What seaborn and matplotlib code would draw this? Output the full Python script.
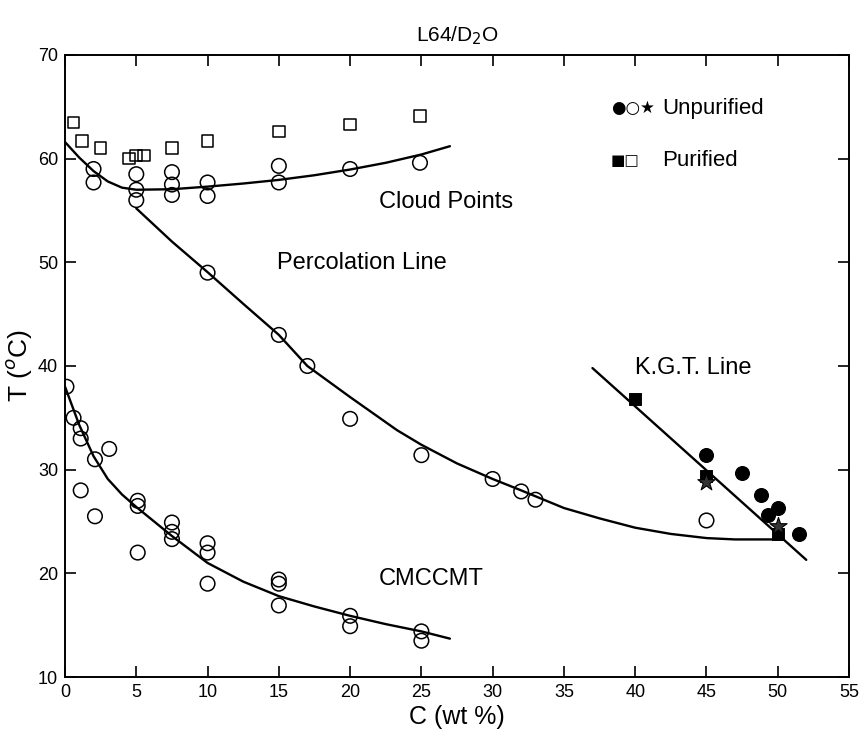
import numpy as np
import pandas as pd
import matplotlib
matplotlib.use('Agg')
import matplotlib.pyplot as plt
import seaborn as sns

# cloud points, purified (open squares)
cloud_pur_c = [0.6, 1.2, 2.5, 4.5, 5.0, 5.55, 7.5, 10.0, 15.0, 20.0, 24.9]
cloud_pur_t = [63.5, 61.7, 61.0, 60.0, 60.3, 60.3, 61.0, 61.7, 62.6, 63.3, 64.1]

# cloud points, unpurified (open circles)
cloud_unp_c = [2.0, 2.0, 5.0, 5.0, 5.0, 7.5, 7.5, 7.5, 10.0, 10.0, 15.0, 15.0, 20.0, 24.9]
cloud_unp_t = [59.0, 57.7, 58.5, 57.0, 56.0, 58.7, 57.5, 56.5, 57.7, 56.4, 59.3, 57.7, 59.0, 59.6]

# percolation points (open circles)
perc_c = [10.0, 15.0, 17.0, 20.0, 25.0, 30.0, 32.0, 33.0, 45.0]
perc_t = [49.0, 43.0, 40.0, 34.9, 31.4, 29.1, 27.9, 27.1, 25.1]

# CMC / CMT points (open circles)
cmc_c = [0.1, 0.6, 1.1, 1.1, 2.1, 3.1, 1.1, 2.1, 5.1, 5.1, 5.1, 7.5, 7.5, 7.5,
         10.0, 10.0, 10.0, 15.0, 15.0, 15.0, 20.0, 20.0, 25.0, 25.0]
cmc_t = [38.0, 35.0, 34.0, 33.0, 31.0, 32.0, 28.0, 25.5, 27.0, 26.5, 22.0, 24.9, 24.0, 23.3,
         22.9, 22.0, 19.0, 19.4, 19.0, 16.9, 15.9, 14.9, 14.4, 13.5]

# K.G.T. points
kgt_unp_c = [45.0, 47.5, 48.8, 50.0, 49.3, 51.5]
kgt_unp_t = [31.4, 29.7, 27.6, 26.3, 25.6, 23.8]
kgt_pur_c = [40.0, 45.0, 50.0]
kgt_pur_t = [36.8, 29.4, 23.8]
kgt_star_c = [45.0, 50.0]
kgt_star_t = [28.8, 24.6]

# fitted curves
cloud_line_c = [0.0, 1.0, 2.0, 3.0, 4.0, 5.0, 7.5, 10.0, 12.5, 15.0, 17.5, 20.0, 22.5, 25.0, 27.0]
cloud_line_t = [61.6, 60.1, 58.8, 57.8, 57.2, 57.0, 57.05, 57.3, 57.6, 57.95, 58.4, 58.95, 59.6, 60.4, 61.2]

perc_line_c = [5.0, 7.5, 10.0, 12.5, 15.0, 17.0, 20.0, 23.3, 25.0, 27.5, 30.0, 32.0, 35.0,
               37.5, 40.0, 42.5, 45.0, 47.0, 50.0]
perc_line_t = [55.2, 52.0, 49.05, 46.0, 43.0, 40.0, 37.0, 33.8, 32.4, 30.6, 29.1, 28.0, 26.3,
               25.3, 24.4, 23.8, 23.4, 23.27, 23.27]

cmc_line_c = [0.0, 1.0, 2.0, 3.0, 4.0, 5.0, 7.5, 10.0, 12.5, 15.0, 17.5, 20.0, 22.5, 25.0, 27.0]
cmc_line_t = [38.0, 34.3, 31.3, 29.1, 27.6, 26.4, 23.6, 21.0, 19.2, 17.8, 16.8, 15.9, 15.1, 14.4, 13.7]

kgt_line_c = [37.0, 52.0]
kgt_line_t = [39.8, 21.3]

sns.set_style('ticks')
plt.rcParams['font.family'] = ['Liberation Sans', 'DejaVu Sans']
plt.rcParams.update({'text.color': 'black', 'axes.labelcolor': 'black',
                     'xtick.color': 'black', 'ytick.color': 'black',
                     'axes.edgecolor': 'black'})

fig = plt.figure(figsize=(8.59, 7.30), dpi=100)
ax = fig.add_axes([0.0757, 0.0726, 0.9127, 0.8521])

# curves
for cx, ct in [(cloud_line_c, cloud_line_t), (perc_line_c, perc_line_t),
               (cmc_line_c, cmc_line_t), (kgt_line_c, kgt_line_t)]:
    sns.lineplot(x=cx, y=ct, ax=ax, color='black', lw=1.7, sort=False, estimator=None)

open_kw = dict(facecolor='none', edgecolor='black', linewidth=1.1, ax=ax, zorder=3)
sns.scatterplot(x=cloud_pur_c, y=cloud_pur_t, marker='s', s=70, **open_kw)
sns.scatterplot(x=cloud_unp_c, y=cloud_unp_t, marker='o', s=110, **open_kw)
sns.scatterplot(x=perc_c, y=perc_t, marker='o', s=110, **open_kw)
sns.scatterplot(x=cmc_c, y=cmc_t, marker='o', s=110, **open_kw)

sns.scatterplot(x=kgt_unp_c, y=kgt_unp_t, marker='o', s=100, color='black', edgecolor='black', ax=ax, zorder=3)
sns.scatterplot(x=kgt_pur_c, y=kgt_pur_t, marker='s', s=70, color='black', edgecolor='black', ax=ax, zorder=3)
sns.scatterplot(x=kgt_star_c, y=kgt_star_t, marker='*', s=170, color='#333333', edgecolor='black',
                linewidth=0.8, ax=ax, zorder=4)

ax.set_xlim(0, 55)
ax.set_ylim(10, 70)
ax.set_xticks(np.arange(0, 56, 5))
ax.set_yticks(np.arange(10, 71, 10))
ax.tick_params(direction='in', length=8, width=1.2, top=True, right=True,
               labelsize=13, pad=5)
for side in ax.spines.values():
    side.set_linewidth(1.4)

ax.set_xlabel('C (wt %)', fontsize=18, labelpad=3)
ax.set_ylabel('T ($^{o}$C)', fontsize=19, labelpad=3)
ax.set_title('L64/D$_2$O', fontsize=15, pad=10)

# annotations
ax.text(22.0, 55.8, 'Cloud Points', fontsize=17, va='center')
ax.text(14.9, 49.9, 'Percolation Line', fontsize=17, va='center')
ax.text(40.0, 39.8, 'K.G.T. Line', fontsize=17, va='center')
ax.text(22.0, 19.5, 'CMCCMT', fontsize=17, va='center')

# legend glyphs
ax.text(38.3, 64.85, '●○★', fontsize=12, va='center', family=['DejaVu Sans'])
ax.text(41.9, 64.85, 'Unpurified', fontsize=16, va='center')
ax.text(38.3, 59.85, '■□', fontsize=11, va='center', family=['DejaVu Sans'])
ax.text(41.9, 59.85, 'Purified', fontsize=16, va='center')

fig.savefig('out.png', dpi=100)
